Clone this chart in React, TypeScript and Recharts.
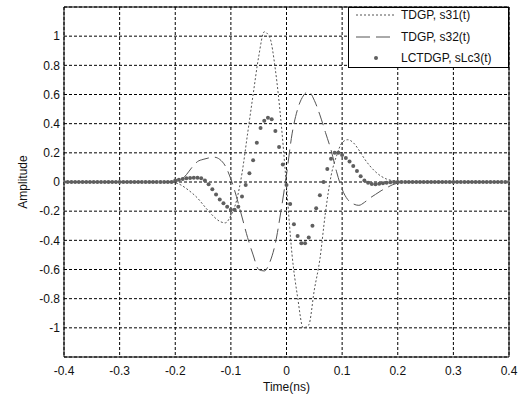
import { ComposedChart, Line, Scatter, XAxis, YAxis, CartesianGrid, ReferenceArea, Legend, Label } from 'recharts'

const xTicks = [-0.4, -0.3, -0.2, -0.1, 0, 0.1, 0.2, 0.3, 0.4]
const yTicks = [-1, -0.8, -0.6, -0.4, -0.2, 0, 0.2, 0.4, 0.6, 0.8, 1]
const seriesNames = ['TDGP, s31(t)', 'TDGP, s32(t)', 'LCTDGP, sLc3(t)']

// time grid of the two TDGP curves (ns)
const lineTime = [
  -0.4, -0.3, -0.22, -0.21, -0.2, -0.19, -0.18, -0.17, -0.16, -0.15, -0.14, -0.13, -0.12, -0.11,
  -0.1, -0.09, -0.08, -0.07, -0.06, -0.05, -0.04, -0.03, -0.02, -0.01, 0, 0.01, 0.02, 0.03, 0.04,
  0.05, 0.06, 0.07, 0.08, 0.09, 0.1, 0.11, 0.12, 0.13, 0.14, 0.15, 0.16, 0.17, 0.18, 0.19, 0.2,
  0.21, 0.22, 0.3, 0.4,
]
const s31 = [
  0, 0, 0, 0, -0.005, -0.02, -0.045, -0.075, -0.11, -0.155, -0.2, -0.24, -0.27, -0.28,
  -0.23, -0.13, 0.06, 0.33, 0.6, 0.86, 1.03, 0.99, 0.77, 0.42, -0.03, -0.5, -0.79, -1.0, -0.98,
  -0.74, -0.53, -0.21, 0.04, 0.18, 0.27, 0.29, 0.27, 0.22, 0.16, 0.11, 0.07, 0.04, 0.02, 0.01, 0.003,
  0, 0, 0, 0,
]
const s32 = [
  0, 0, 0, 0, 0.003, 0.015, 0.05, 0.1, 0.14, 0.155, 0.165, 0.17, 0.155, 0.11,
  0.02, -0.1, -0.24, -0.38, -0.5, -0.6, -0.61, -0.55, -0.42, -0.2, 0.05, 0.33, 0.5, 0.59, 0.62,
  0.56, 0.46, 0.34, 0.22, 0.07, -0.05, -0.12, -0.15, -0.16, -0.14, -0.11, -0.085, -0.06, -0.04, -0.02, -0.008,
  0, 0, 0, 0,
]

// LCTDGP samples, one every 1/150 ns from -0.4 to 0.4
const sLc3 = [
  0, 0, 0, 0, 0, 0, 0, 0, 0, 0, 0, 0, 0, 0, 0, 0, 0, 0, 0, 0, 0, 0, 0, 0, 0, 0, 0, 0, 0, 0,
  0.01, 0.015, 0.02, 0.025, 0.028, 0.03, 0.03, 0.025, 0.01, -0.015,
  -0.05, -0.085, -0.12, -0.145, -0.17, -0.19, -0.19, -0.17, -0.1, -0.02,
  0.06, 0.15, 0.27, 0.37, 0.42, 0.44, 0.43, 0.35, 0.24, 0.12,
  -0.02, -0.15, -0.29, -0.37, -0.42, -0.42, -0.38, -0.3, -0.18, -0.09,
  0, 0.09, 0.16, 0.2, 0.2, 0.185, 0.165, 0.14, 0.11, 0.075,
  0.04, 0.01, -0.005, -0.013, -0.015, -0.012, -0.008, -0.005, -0.002, 0,
  0, 0, 0, 0, 0, 0, 0, 0, 0, 0, 0, 0, 0, 0, 0, 0, 0, 0, 0, 0, 0, 0, 0, 0, 0, 0, 0, 0, 0, 0, 0,
]
const dotStep = 1 / 150

const s31Data = lineTime.map((t, i) => ({ t, v: s31[i] }))
const s32Data = lineTime.map((t, i) => ({ t, v: s32[i] }))
const dotData = sLc3.map((v, i) => ({ t: -0.4 + i * dotStep, v }))

const font = '"Liberation Sans", Arial, sans-serif'
const curveColor = '#555'
const dotColor = '#5f5f5f'

const renderLegend = () => (
  <div style={{ width: 161, height: 61, boxSizing: 'border-box', border: '1px solid #000', background: '#fff' }}>
    <svg width={159} height={59} style={{ display: 'block' }}>
      <line x1={7} x2={47} y1={7} y2={7} stroke={curveColor} strokeDasharray="2 2" />
      <line x1={7} x2={47} y1={29} y2={29} stroke={curveColor} strokeDasharray="14 6" />
      <circle cx={27} cy={50} r={2} fill={dotColor} />
      {seriesNames.map((name, i) => (
        <text key={name} x={52} y={[7, 29, 50][i]} dominantBaseline="central" fontSize={12} fontFamily={font} fill="#111">
          {name}
        </text>
      ))}
    </svg>
  </div>
)

const App = () => {
  return (
    <div style={{ position: 'absolute', left: 0, top: 0, background: '#fff' }}>
      <ComposedChart width={519} height={398} margin={{ top: 7, right: 10, left: 0, bottom: 0 }}>
        <CartesianGrid stroke="#000" strokeDasharray="3 2" />
        <XAxis
          dataKey="t"
          type="number"
          domain={[-0.4, 0.4]}
          ticks={xTicks}
          allowDataOverflow
          height={41}
          axisLine={false}
          tickLine={false}
          tickSize={0}
          tickMargin={9}
          tickFormatter={(v: number) => String(v)}
          tick={{ fontSize: 12, fontFamily: font, fill: '#111' }}
        >
          <Label value="Time(ns)" position="insideBottom" offset={7} style={{ fontSize: 12, fontFamily: font, fill: '#111' }} />
        </XAxis>
        <YAxis
          type="number"
          domain={[-1.2, 1.2]}
          ticks={yTicks}
          allowDataOverflow
          width={64}
          axisLine={false}
          tickLine={false}
          tickSize={0}
          tickMargin={4}
          tickFormatter={(v: number) => String(v)}
          tick={{ fontSize: 12, fontFamily: font, fill: '#111' }}
        >
          <Label
            content={() => (
              <text x={23} y={182} transform="rotate(-90, 23, 182)" textAnchor="middle" dominantBaseline="central" fontSize={12} fontFamily={font} fill="#111">
                Amplitude
              </text>
            )}
          />
        </YAxis>
        <ReferenceArea x1={-0.4} x2={0.4} y1={-1.2} y2={1.2} fill="none" stroke="#000" strokeOpacity={1} ifOverflow="visible" />
        <Line data={s31Data} dataKey="v" name={seriesNames[0]} type="monotone" stroke={curveColor} strokeWidth={1} strokeDasharray="2 2" dot={false} isAnimationActive={false} />
        <Line data={s32Data} dataKey="v" name={seriesNames[1]} type="monotone" stroke={curveColor} strokeWidth={1} strokeDasharray="14 6" dot={false} isAnimationActive={false} />
        <Scatter
          data={dotData}
          dataKey="v"
          name={seriesNames[2]}
          fill={dotColor}
          shape={(p: { cx?: number; cy?: number }) => <circle cx={p.cx} cy={p.cy} r={2} fill={dotColor} />}
          isAnimationActive={false}
        />
        <Legend content={renderLegend} layout="vertical" align="center" verticalAlign="middle" wrapperStyle={{ left: 348, top: 7, width: 161, height: 61 }} />
      </ComposedChart>
    </div>
  )
}

export default App
